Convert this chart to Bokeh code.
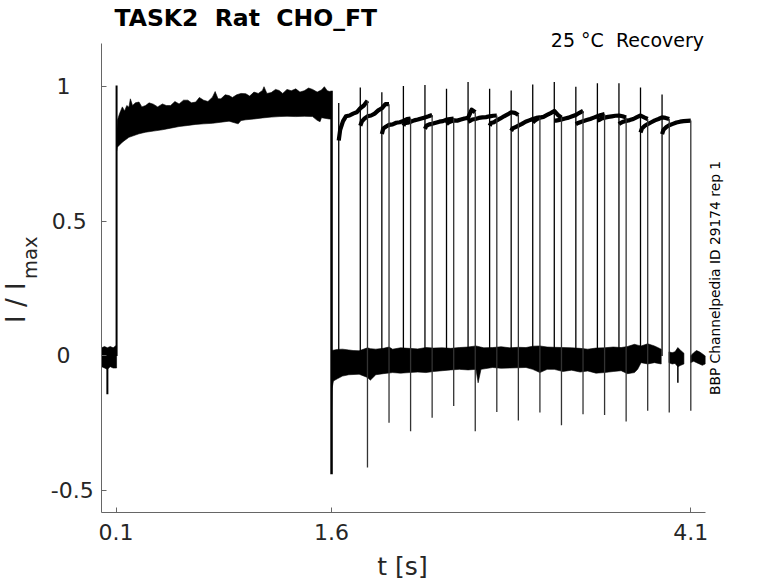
import json
from math import pi
from bokeh.plotting import figure
from bokeh.models import Range1d, FixedTicker, Label, CustomJSTickFormatter
from bokeh.embed import file_html
from bokeh.resources import INLINE

# ---------------- data ----------------
NB = "\u00a0"  # keeps the double spaces of the original texts
title_text = "TASK2 " + NB + "Rat " + NB + "CHO_FT"
cond_text = "25 \u00b0C " + NB + "Recovery"
side_text = "BBP Channelpedia ID 29174 rep 1"
x_label = "t [s]"
y_label_main = "I / I"
y_label_sub = "max"

x_ticks = [0.1, 1.6, 4.1]
y_ticks = [-0.5, 0, 0.5, 1]
y_tick_labels = ["-0.5", "0", "0.5", "1"]
x_bounds = (0.0, 4.2)
y_bounds = (-0.582, 1.16)

# baseline before the conditioning pulse: upper / lower envelope (t, I/Imax)
pre_top = [(0.0, 0.03), (0.02, 0.035), (0.04, 0.03), (0.06, 0.035), (0.08, 0.03), (0.104, 0.04)]
pre_bot = [(0.0, -0.04), (0.02, -0.045), (0.04, -0.05), (0.06, -0.04), (0.08, -0.045), (0.104, -0.045)]
pre_spike_t = [0.04]
pre_spike_y = [-0.142]

# conditioning pulse 0.1 - 1.6 s: upper / lower envelope of all sweeps
p1_top = [(0.104, 0.80), (0.109, 0.874), (0.125, 0.90), (0.144, 0.925), (0.16, 0.91),
          (0.175, 0.93), (0.19, 0.924), (0.2, 0.955), (0.215, 0.93), (0.235, 0.94),
          (0.26, 0.943), (0.28, 0.925), (0.306, 0.93), (0.33, 0.94), (0.36, 0.935),
          (0.39, 0.925), (0.423, 0.936), (0.45, 0.93), (0.48, 0.93), (0.51, 0.945),
          (0.539, 0.936), (0.57, 0.95), (0.6, 0.95), (0.625, 0.94), (0.655, 0.943),
          (0.68, 0.96), (0.71, 0.95), (0.74, 0.945), (0.771, 0.961), (0.79, 0.982),
          (0.81, 0.955), (0.83, 0.955), (0.86, 0.97), (0.887, 0.967), (0.91, 0.96),
          (0.94, 0.97), (0.97, 0.975), (1.003, 0.974), (1.03, 0.965), (1.06, 0.98),
          (1.09, 0.975), (1.119, 0.986), (1.13, 1.0), (1.15, 0.975), (1.18, 0.978),
          (1.21, 0.99), (1.235, 0.986), (1.26, 0.975), (1.29, 0.99), (1.32, 0.985),
          (1.351, 0.992), (1.38, 0.98), (1.41, 0.985), (1.44, 0.995), (1.468, 0.99),
          (1.5, 0.98), (1.53, 0.988), (1.55, 1.0), (1.57, 0.985), (1.6, 0.98)]
p1_bot = [(0.104, 0.76), (0.109, 0.775), (0.144, 0.794), (0.19, 0.812), (0.26, 0.825),
          (0.306, 0.831), (0.36, 0.835), (0.423, 0.84), (0.48, 0.846), (0.539, 0.852),
          (0.6, 0.856), (0.655, 0.86), (0.71, 0.862), (0.771, 0.864), (0.83, 0.868),
          (0.887, 0.872), (0.95, 0.862), (0.97, 0.874), (1.003, 0.877), (1.06, 0.88),
          (1.119, 0.884), (1.18, 0.887), (1.235, 0.889), (1.29, 0.89), (1.351, 0.889),
          (1.41, 0.89), (1.468, 0.889), (1.5, 0.875), (1.52, 0.87), (1.53, 0.885),
          (1.583, 0.88), (1.6, 0.88)]
p1_on_t, p1_on_peak = 0.104, 1.004
p1_off_t, p1_off_top, p1_off_trough = 1.6, 0.985, -0.44

# baseline after the conditioning pulse: upper / lower envelope of all sweeps
base_top = [(1.6, 0.02), (1.64, 0.024), (1.676, 0.025), (1.72, 0.022), (1.75, 0.02),
            (1.792, 0.019), (1.85, 0.03), (1.87, 0.027), (1.908, 0.025), (1.96, 0.028),
            (2.0, 0.033), (2.025, 0.025), (2.08, 0.03), (2.14, 0.028), (2.2, 0.026),
            (2.257, 0.031), (2.31, 0.029), (2.37, 0.03), (2.43, 0.028), (2.489, 0.031),
            (2.55, 0.033), (2.605, 0.037), (2.66, 0.03), (2.721, 0.031), (2.78, 0.034),
            (2.84, 0.03), (2.9, 0.032), (2.953, 0.031), (3.0, 0.036), (3.05, 0.037),
            (3.1, 0.033), (3.15, 0.032), (3.21, 0.031), (3.27, 0.03), (3.33, 0.028),
            (3.383, 0.025), (3.44, 0.029), (3.499, 0.03), (3.56, 0.033), (3.615, 0.031),
            (3.66, 0.035), (3.708, 0.043), (3.73, 0.04), (3.754, 0.037), (3.8, 0.045),
            (3.847, 0.037), (3.894, 0.025)]
base_bot = [(1.6, -0.2), (1.604, -0.12), (1.613, -0.093), (1.64, -0.085), (1.676, -0.075),
            (1.72, -0.07), (1.792, -0.068), (1.85, -0.08), (1.87, -0.09), (1.908, -0.07),
            (1.96, -0.066), (2.025, -0.062), (2.08, -0.064), (2.14, -0.062), (2.2, -0.06),
            (2.257, -0.062), (2.31, -0.058), (2.37, -0.055), (2.43, -0.052), (2.489, -0.05),
            (2.55, -0.052), (2.605, -0.05), (2.62, -0.1), (2.64, -0.05), (2.721, -0.043),
            (2.78, -0.046), (2.84, -0.045), (2.9, -0.044), (2.953, -0.043), (3.0, -0.05),
            (3.05, -0.062), (3.1, -0.05), (3.15, -0.05), (3.21, -0.058), (3.27, -0.053),
            (3.33, -0.06), (3.383, -0.056), (3.44, -0.064), (3.499, -0.062), (3.56, -0.058),
            (3.615, -0.055), (3.66, -0.066), (3.708, -0.062), (3.73, -0.05), (3.754, -0.025),
            (3.8, -0.03), (3.847, -0.025), (3.894, -0.03)]

# test pulses (one per sweep), 0.2 s long
p2_start = [1.65, 1.80, 1.95, 2.10, 2.25, 2.40, 2.55, 2.70,
            2.85, 3.00, 3.15, 3.30, 3.45, 3.60, 3.75, 3.90]
p2_end = [1.85, 2.00, 2.15, 2.30, 2.45, 2.60, 2.75, 2.90,
          3.05, 3.20, 3.35, 3.50, 3.65, 3.80, 3.95, 4.10]
p2_rel_t = [0.0, 0.01, 0.03, 0.05, 0.075, 0.10, 0.125, 0.15, 0.175, 0.20]
p2_vals = [
    [0.800, 0.840, 0.872, 0.890, 0.893, 0.900, 0.905, 0.920, 0.930, 0.948],
    [0.855, 0.870, 0.882, 0.890, 0.893, 0.900, 0.912, 0.920, 0.935, 0.935],
    [0.824, 0.845, 0.852, 0.858, 0.860, 0.866, 0.868, 0.873, 0.880, 0.882],
    [0.855, 0.865, 0.866, 0.870, 0.875, 0.878, 0.882, 0.886, 0.890, 0.895],
    [0.843, 0.855, 0.860, 0.862, 0.866, 0.870, 0.872, 0.878, 0.880, 0.882],
    [0.861, 0.866, 0.871, 0.875, 0.874, 0.878, 0.882, 0.884, 0.915, 0.905],
    [0.870, 0.872, 0.878, 0.880, 0.884, 0.886, 0.887, 0.890, 0.892, 0.893],
    [0.855, 0.865, 0.868, 0.875, 0.882, 0.890, 0.897, 0.905, 0.903, 0.895],
    [0.836, 0.845, 0.850, 0.855, 0.862, 0.870, 0.875, 0.880, 0.884, 0.886],
    [0.867, 0.872, 0.880, 0.885, 0.888, 0.895, 0.902, 0.910, 0.895, 0.885],
    [0.874, 0.874, 0.876, 0.878, 0.882, 0.885, 0.890, 0.895, 0.903, 0.910],
    [0.861, 0.864, 0.868, 0.872, 0.876, 0.880, 0.885, 0.890, 0.895, 0.898],
    [0.874, 0.876, 0.882, 0.885, 0.888, 0.890, 0.892, 0.893, 0.890, 0.886],
    [0.861, 0.865, 0.870, 0.873, 0.876, 0.880, 0.887, 0.893, 0.886, 0.880],
    [0.830, 0.845, 0.855, 0.861, 0.868, 0.875, 0.880, 0.886, 0.884, 0.880],
    [0.824, 0.840, 0.850, 0.857, 0.862, 0.867, 0.870, 0.872, 0.873, 0.874],
]
p2_peak = [0.939, 0.997, 0.979, 1.003, 1.006, 0.992, 1.017, 0.992,
           0.986, 1.008, 1.017, 1.000, 1.013, 1.013, 0.997, 0.971]
p2_trough = [-0.415, -0.248, -0.280, -0.230, -0.186, -0.280, -0.208, -0.240,
             -0.210, -0.258, -0.217, -0.220, -0.244, -0.204, -0.210, -0.204]

# short baseline pieces recorded after the last two test pulses
frag1_top = [(3.948, 0.015), (3.97, 0.012), (3.99, 0.015), (4.01, 0.031), (4.03, 0.02), (4.052, 0.01)]
frag1_bot = [(3.948, -0.025), (3.97, -0.03), (3.99, -0.028), (4.01, -0.04), (4.03, -0.035), (4.052, -0.03)]
frag1_spike_t = [4.01]
frag1_spike_lo = [-0.10]
frag2_top = [(4.098, 0.0), (4.12, 0.012), (4.14, 0.02), (4.16, 0.015), (4.18, 0.008), (4.2, 0.0)]
frag2_bot = [(4.098, -0.025), (4.12, -0.02), (4.14, -0.025), (4.16, -0.03), (4.18, -0.035), (4.2, -0.03)]

# ---------------- figure ----------------
FONT = "DejaVu Sans"
INK = "black"
AX = "#666666"
LBL = "#262626"

# the frame covers the whole canvas; the axes sit at fixed data locations
p = figure(width=778, height=583, min_border=0, title=None,
           x_range=Range1d(-0.70376, 4.71030), y_range=Range1d(-0.84547, 1.32021),
           output_backend="svg", toolbar_location=None)
p.grid.visible = False
p.outline_line_color = None
p.background_fill_color = "white"
p.border_fill_color = "white"

pad = NB
y_lab_map = {}
for v, s in zip(y_ticks, y_tick_labels):
    y_lab_map[str(v)] = s
y_lab_map["0"] = "0" + pad * 3 + "\u200a"
y_lab_map["1"] = "1" + pad * 3 + "\u200a"
y_lab_map["0.5"] = "0.5" + pad

xfmt = CustomJSTickFormatter(code="return tick.toString();")
yfmt = CustomJSTickFormatter(
    code="const m = %s; const s = tick.toString(); return (s in m) ? m[s] : s;"
    % json.dumps(y_lab_map))

for ax in (p.xaxis[0], p.yaxis[0]):
    ax.axis_line_color = AX
    ax.major_tick_line_color = AX
    ax.major_tick_in = 5
    ax.major_tick_out = 0
    ax.minor_tick_line_color = None
    ax.major_label_text_font = FONT
    ax.major_label_text_font_size = "22px"
    ax.major_label_text_color = LBL
p.xaxis[0].formatter = xfmt
p.yaxis[0].formatter = yfmt
p.xaxis[0].ticker = FixedTicker(ticks=x_ticks)
p.yaxis[0].ticker = FixedTicker(ticks=y_ticks)
p.xaxis[0].bounds = x_bounds
p.yaxis[0].bounds = y_bounds
p.xaxis[0].fixed_location = y_bounds[0]
p.yaxis[0].fixed_location = x_bounds[0]
p.xaxis[0].major_label_standoff = 11
p.yaxis[0].major_label_standoff = 8


def band(top, bot):
    xs = [t for t, _ in top] + [t for t, _ in reversed(bot)]
    ys = [v for _, v in top] + [v for _, v in reversed(bot)]
    p.patch(x=xs, y=ys, fill_color=INK, line_color=INK, line_width=0.6)


# bands (envelopes of the overlapping noisy sweeps)
band(pre_top, pre_bot)
band(p1_top, p1_bot)
band(base_top, base_bot)
band(frag1_top, frag1_bot)
band(frag2_top, frag2_bot)

# test pulse traces
xs = [[s + r for r in p2_rel_t] for s in p2_start]
p.multi_line(xs=xs, ys=p2_vals, line_color=INK, line_width=4.2, line_join="round")

# transients
p.segment(x0=p2_start, y0=[0.0] * len(p2_start), x1=p2_start, y1=p2_peak,
          line_color=INK, line_width=1.3)
p.segment(x0=p2_end, y0=[v[-1] for v in p2_vals], x1=p2_end, y1=p2_trough,
          line_color="#333333", line_width=1.3)
p.segment(x0=[p1_on_t], y0=[0.0], x1=[p1_on_t], y1=[p1_on_peak],
          line_color=INK, line_width=2)
p.segment(x0=[p1_off_t], y0=[p1_off_top], x1=[p1_off_t], y1=[p1_off_trough],
          line_color=INK, line_width=2.5)
p.segment(x0=pre_spike_t, y0=[0.0], x1=pre_spike_t, y1=pre_spike_y,
          line_color=INK, line_width=2)
p.segment(x0=frag1_spike_t, y0=[0.0], x1=frag1_spike_t, y1=frag1_spike_lo,
          line_color=INK, line_width=1.5)

# texts (anchored at their middle)
p.add_layout(Label(x=0.0896, y=1.2552, text=title_text, text_font=FONT,
                   text_font_size="23.5px", text_font_style="bold",
                   text_color="black", text_baseline="middle"))
p.add_layout(Label(x=4.1919, y=1.1724, text=cond_text, text_font=FONT,
                   text_font_size="19px", text_color="black",
                   text_align="right", text_baseline="middle"))
p.add_layout(Label(x=4.2677, y=0.2894, text=side_text, text_font=FONT,
                   text_font_size="13.8px", text_color="black", angle=pi / 2,
                   text_align="center", text_baseline="middle"))
p.add_layout(Label(x=2.0937, y=-0.7823, text=x_label, text_font=FONT,
                   text_font_size="25px", text_color=LBL,
                   text_align="center", text_baseline="middle"))
p.add_layout(Label(x=-0.5952, y=0.1222, text=y_label_main, text_font=FONT,
                   text_font_size="26px", text_color=LBL, angle=pi / 2,
                   text_align="left", text_baseline="middle"))
p.add_layout(Label(x=-0.4929, y=0.286, text=y_label_sub, text_font=FONT,
                   text_font_size="19.5px", text_color=LBL, angle=pi / 2,
                   text_align="left", text_baseline="middle"))

open("out.html", "w").write(file_html(p, INLINE))
